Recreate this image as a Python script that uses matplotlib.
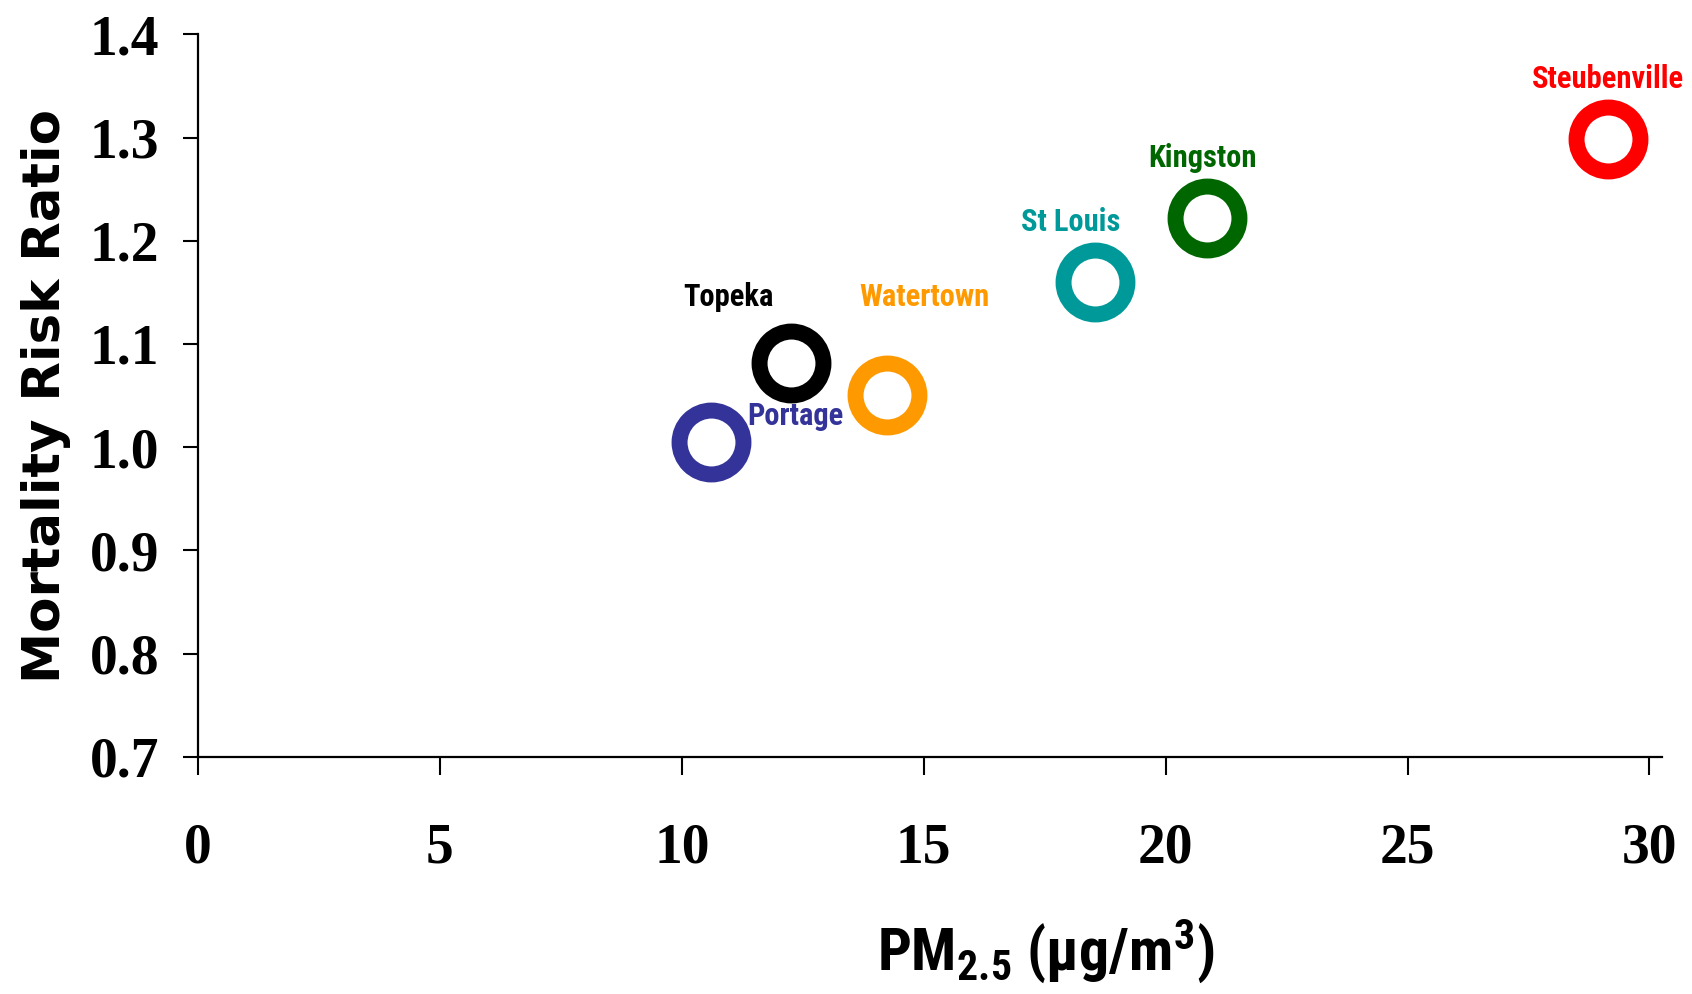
import numpy as np
import matplotlib.pyplot as plt

cities = ['Portage', 'Topeka', 'Watertown', 'St Louis', 'Kingston', 'Steubenville']
pm25 = [10.6, 12.25, 14.25, 18.55, 20.85, 29.15]
risk = [1.005, 1.082, 1.051, 1.160, 1.222, 1.299]
colors = ['#333399', '#000000', '#FF9900', '#009999', '#006600', '#FF0000']
# label offsets from each ring, in points
offsets = [(61, 19), (-45, 47), (27, 70), (-18, 43), (-3, 43), (0, 43)]

xticks = [0, 5, 10, 15, 20, 25, 30]
yticks = [0.7, 0.8, 0.9, 1.0, 1.1, 1.2, 1.3, 1.4]

narrow = ['Roboto Condensed', 'Liberation Sans', 'DejaVu Sans']
plt.rcParams['mathtext.fontset'] = 'custom'
plt.rcParams['mathtext.rm'] = 'Roboto Condensed:bold'
plt.rcParams['mathtext.it'] = 'Roboto Condensed:bold'
plt.rcParams['mathtext.bf'] = 'Roboto Condensed:bold'
plt.rcParams['mathtext.default'] = 'rm'

fig = plt.figure(figsize=(16.92, 9.94), dpi=100)
ax = fig.add_axes([0.117, 0.2385, 0.865, 0.727])

for x, y, c, name, off in zip(pm25, risk, colors, cities, offsets):
    ax.plot(x, y, 'o', ms=46, mfc='white', mec=c, mew=11.5, clip_on=False)
    ax.annotate(name, (x, y), xytext=off, textcoords='offset points',
                ha='center', va='center', color=c, fontsize=22,
                fontweight='bold', family=narrow, annotation_clip=False)

ax.set_xlim(0, 30.25)
ax.set_ylim(0.7, 1.4)
ax.set_xticks(xticks)
ax.set_yticks(yticks)
ax.set_xticklabels([str(t) for t in xticks])
ax.set_yticklabels(['%.1f' % t for t in yticks])
for lab in ax.get_xticklabels() + ax.get_yticklabels():
    lab.set_family('Liberation Serif')
    lab.set_fontweight('bold')
    lab.set_fontsize(40)

ax.tick_params(axis='x', direction='out', length=13, width=1.5, pad=34)
ax.tick_params(axis='y', direction='out', length=11, width=1.5, pad=17)
for s in ['top', 'right']:
    ax.spines[s].set_visible(False)
for s in ['left', 'bottom']:
    ax.spines[s].set_linewidth(1.6)

ax.set_ylabel('Mortality Risk Ratio', family='DejaVu Sans', fontweight='bold', fontsize=37)
ax.yaxis.set_label_coords(-0.087, 0.5)
ax.set_xlabel(r'PM$_{2.5}$ (μg/m$^{3}$)', family=narrow, fontweight='bold', fontsize=43)
ax.xaxis.set_label_coords(0.579, -0.222)

fig.savefig('out.png', dpi=100)
